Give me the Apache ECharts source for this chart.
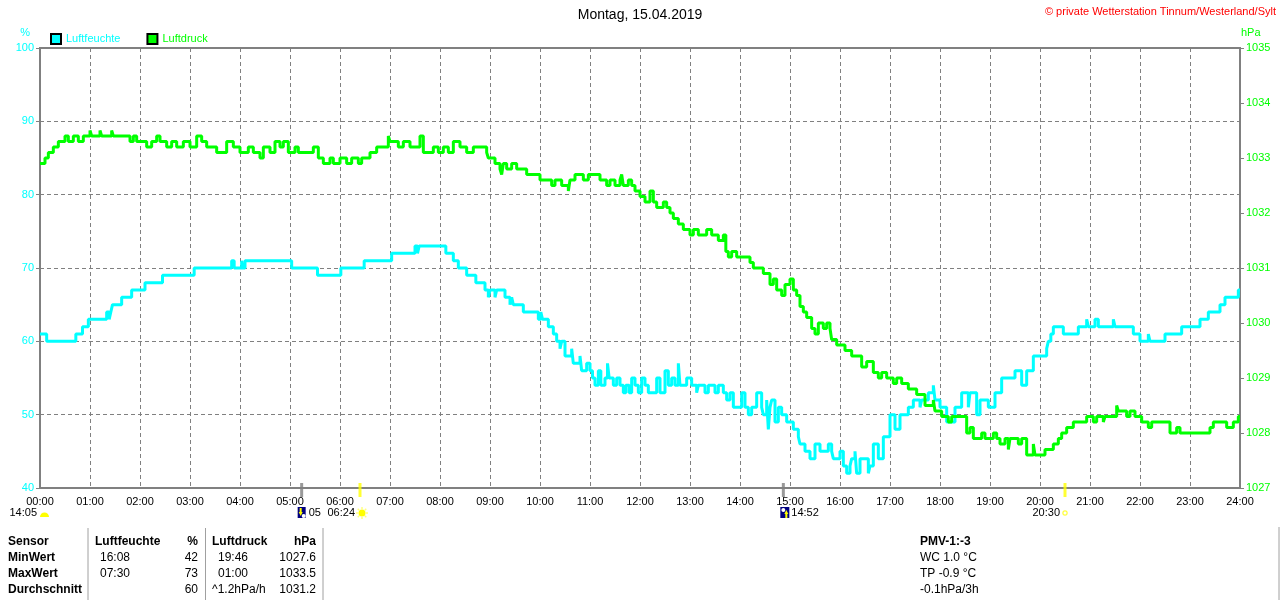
<!DOCTYPE html>
<html>
<head>
<meta charset="utf-8">
<title>Luftfeuchte / Luftdruck</title>
<script src="https://cdn.jsdelivr.net/npm/echarts@6/dist/echarts.min.js"></script>
<style>
  html, body { margin: 0; padding: 0; background: #fff; }
  #chart { width: 1280px; height: 600px; }
</style>
</head>
<body>
<div id="chart"></div>
<script>
// Luftfeuchte in %, [Uhrzeit, Wert] – Wert gilt ab dieser Uhrzeit
var humidity = [
  ["00:00",61],["00:08",60],["00:43",61],["00:51",62],["00:58",63],["01:20",64],["01:23",63],["01:25",64],
  ["01:27",65],["01:38",66],["01:50",67],["02:06",68],["02:27",69],["03:05",70],["03:50",71],["03:53",70],
  ["04:02",71],["04:03",70],["04:06",71],["05:02",70],["05:33",69],["06:01",70],["06:29",71],["07:02",72],
  ["07:30",73],["07:33",72],["07:35",73],["08:07",72],["08:16",71],["08:22",70],["08:32",69],["08:43",68],
  ["08:54",67],["08:58",66],["09:00",67],["09:06",66],["09:08",67],["09:18",66],["09:24",65],["09:26",66],
  ["09:28",65],["09:40",64],["09:58",63],["10:01",64],["10:03",63],["10:10",62],["10:16",61],["10:20",60],
  ["10:24",59],["10:26",60],["10:30",58],["10:38",59],["10:40",57],["10:48",58],["10:50",56],["10:56",57],
  ["11:00",56],["11:03",55],["11:06",54],["11:10",56],["11:13",54],["11:18",55],["11:21",57],["11:23",55],
  ["11:28",54],["11:32",55],["11:36",54],["11:40",53],["11:43",54],["11:47",53],["11:50",55],["11:54",54],
  ["11:58",53],["12:02",55],["12:06",54],["12:10",53],["12:20",55],["12:24",53],["12:30",56],["12:34",54],
  ["12:38",55],["12:42",54],["12:46",57],["12:48",54],["12:56",55],["13:02",54],["13:08",53],["13:10",54],
  ["13:18",53],["13:22",54],["13:30",53],["13:34",54],["13:40",53],["13:44",52],["13:48",53],["13:52",51],
  ["14:02",53],["14:06",51],["14:10",50],["14:14",51],["14:20",53],["14:26",51],["14:28",50],["14:32",52],
  ["14:34",48],["14:36",51],["14:38",52],["14:42",49],["14:46",51],["14:50",50],["14:56",49],["15:04",48],
  ["15:10",47],["15:12",46],["15:18",45],["15:24",44],["15:30",46],["15:36",45],["15:46",46],["15:50",45],
  ["15:52",44],["16:00",45],["16:04",43],["16:08",42],["16:12",43],["16:14",44],["16:18",45],["16:20",42],
  ["16:24",44],["16:34",42],["16:36",43],["16:40",46],["16:46",44],["16:52",47],["17:00",50],["17:06",48],
  ["17:12",50],["17:22",51],["17:28",52],["17:36",51],["17:38",52],["17:46",53],["17:52",54],["17:54",52],
  ["18:00",51],["18:08",49],["18:18",51],["18:26",53],["18:34",51],["18:36",53],["18:44",50],["18:48",52],
  ["18:58",51],["19:06",53],["19:14",55],["19:30",56],["19:38",54],["19:44",56],["19:52",58],["20:08",59],
  ["20:10",60],["20:13",61],["20:16",62],["20:28",61],["20:46",62],["20:56",63],["20:58",62],["21:06",63],
  ["21:10",62],["21:28",63],["21:30",62],["21:52",61],["22:00",60],["22:10",61],["22:12",60],["22:30",61],
  ["22:50",62],["23:12",63],["23:22",64],["23:36",65],["23:42",66],["23:58",67],["24:00",67]
];

// Luftdruck in hPa
var pressure = [
  ["00:00",1032.9],["00:06",1033.0],["00:10",1033.1],["00:16",1033.2],["00:22",1033.3],["00:30",1033.4],
  ["00:34",1033.3],["00:40",1033.4],["00:46",1033.3],["00:52",1033.4],["01:00",1033.5],["01:02",1033.4],
  ["01:12",1033.5],["01:14",1033.4],["01:26",1033.5],["01:28",1033.4],["01:48",1033.3],["01:52",1033.4],
  ["01:56",1033.3],["02:08",1033.2],["02:14",1033.3],["02:20",1033.4],["02:24",1033.3],["02:32",1033.2],
  ["02:38",1033.3],["02:44",1033.2],["02:52",1033.3],["03:00",1033.2],["03:08",1033.4],["03:14",1033.3],
  ["03:20",1033.2],["03:32",1033.1],["03:44",1033.3],["03:52",1033.2],["04:00",1033.1],["04:10",1033.2],
  ["04:16",1033.1],["04:24",1033.0],["04:28",1033.2],["04:36",1033.1],["04:42",1033.3],["04:48",1033.2],
  ["04:52",1033.3],["04:58",1033.1],["05:06",1033.2],["05:10",1033.1],["05:28",1033.2],["05:34",1033.0],
  ["05:40",1032.9],["05:48",1033.0],["05:52",1032.9],["06:00",1033.0],["06:08",1032.9],["06:14",1033.0],
  ["06:22",1032.9],["06:26",1033.0],["06:36",1033.1],["06:44",1033.2],["06:58",1033.4],["07:00",1033.3],
  ["07:10",1033.2],["07:16",1033.3],["07:24",1033.2],["07:36",1033.4],["07:40",1033.1],["07:52",1033.2],
  ["07:58",1033.1],["08:04",1033.2],["08:10",1033.1],["08:16",1033.3],["08:24",1033.2],["08:32",1033.1],
  ["08:40",1033.2],["08:56",1033.1],["08:58",1033.0],["09:06",1032.9],["09:12",1032.8],["09:14",1032.7],
  ["09:16",1032.9],["09:20",1032.8],["09:26",1032.9],["09:32",1032.8],["09:44",1032.7],["10:00",1032.6],
  ["10:14",1032.5],["10:18",1032.6],["10:26",1032.5],["10:34",1032.4],["10:36",1032.6],["10:42",1032.7],
  ["10:52",1032.6],["10:58",1032.7],["11:12",1032.6],["11:20",1032.5],["11:24",1032.6],["11:30",1032.5],
  ["11:36",1032.6],["11:38",1032.7],["11:40",1032.5],["11:46",1032.6],["11:50",1032.5],["11:54",1032.4],
  ["12:00",1032.3],["12:06",1032.2],["12:12",1032.4],["12:16",1032.2],["12:20",1032.1],["12:28",1032.2],
  ["12:32",1032.1],["12:36",1032.0],["12:40",1031.9],["12:46",1031.8],["12:52",1031.7],["13:00",1031.6],
  ["13:04",1031.7],["13:10",1031.6],["13:20",1031.7],["13:26",1031.6],["13:34",1031.5],["13:40",1031.6],
  ["13:43",1031.3],["13:46",1031.2],["13:50",1031.3],["13:56",1031.2],["14:12",1031.1],["14:16",1031.0],
  ["14:28",1030.9],["14:36",1030.7],["14:40",1030.8],["14:44",1030.6],["14:50",1030.5],["14:54",1030.7],
  ["15:00",1030.8],["15:04",1030.6],["15:08",1030.5],["15:12",1030.3],["15:16",1030.2],["15:20",1030.1],
  ["15:26",1029.9],["15:30",1029.8],["15:34",1030.0],["15:40",1029.9],["15:44",1030.0],["15:48",1029.9],
  ["15:50",1029.7],["15:56",1029.6],["16:06",1029.5],["16:14",1029.4],["16:26",1029.2],["16:32",1029.3],
  ["16:40",1029.1],["16:46",1029.0],["16:50",1029.1],["16:56",1029.0],["17:04",1028.9],["17:08",1029.0],
  ["17:14",1028.9],["17:22",1028.8],["17:32",1028.7],["17:42",1028.5],["17:52",1028.6],["17:54",1028.4],
  ["18:02",1028.3],["18:10",1028.2],["18:14",1028.3],["18:32",1028.0],["18:36",1028.1],["18:40",1027.9],
  ["18:50",1028.0],["18:54",1027.9],["19:04",1028.0],["19:08",1027.9],["19:12",1027.8],["19:18",1027.9],
  ["19:22",1027.7],["19:24",1027.9],["19:34",1027.8],["19:38",1027.9],["19:44",1027.6],["19:52",1027.8],
  ["19:54",1027.6],["20:06",1027.7],["20:16",1027.8],["20:22",1027.9],["20:26",1028.0],["20:32",1028.1],
  ["20:40",1028.2],["20:56",1028.3],["21:04",1028.2],["21:08",1028.3],["21:16",1028.2],["21:18",1028.3],
  ["21:32",1028.5],["21:34",1028.4],["21:44",1028.3],["21:48",1028.4],["21:54",1028.3],["22:02",1028.2],
  ["22:10",1028.1],["22:14",1028.2],["22:36",1028.0],["22:44",1028.1],["22:48",1028.0],["23:24",1028.1],
  ["23:28",1028.2],["23:44",1028.1],["23:52",1028.2],["23:58",1028.3],["24:00",1028.3]
];

// Sonne / Mond Ereignisse unter der Zeitachse
var events = [
  { time: "05:14", label: "05",    color: "#808080", icon: "moonset"  },
  { time: "06:24", label: "06:24", color: "#ffff00", icon: "sunrise"  },
  { time: "14:52", label: "14:52", color: "#808080", icon: "moonrise" },
  { time: "20:30", label: "20:30", color: "#ffff00", icon: "sunset"   }
];
var dayStartLabel = "14:05";

// Tabelle unten
var tableHead = ["Sensor", "Luftfeuchte", "%", "Luftdruck", "hPa"];
var tableRows = [
  ["MinWert",      "16:08", "42", "19:46",      "1027.6"],
  ["MaxWert",      "07:30", "73", "01:00",      "1033.5"],
  ["Durchschnitt", "",      "60", "^1.2hPa/h",  "1031.2"]
];
var pmvLines = ["PMV-1:-3", "WC 1.0 °C", "TP -0.9 °C", "-0.1hPa/3h"];

var FONT = '"Liberation Sans", Arial, sans-serif';
var CYAN = "#00ffff", GREEN = "#00ff00", GRAY = "#808080";

function toMin(s) {
  var p = s.split(":");
  return (+p[0]) * 60 + (+p[1]);
}
function pad2(n) { return (n < 10 ? "0" : "") + n; }

var chart = echarts.init(document.getElementById("chart"));

var option = {
  animation: false,
  backgroundColor: "#fff",
  textStyle: { fontFamily: FONT },
  title: [
    {
      text: "Montag, 15.04.2019",
      left: "center",
      top: 8,
      padding: 0,
      textStyle: { fontFamily: FONT, fontSize: 14, fontWeight: "normal", color: "#000" }
    },
    {
      text: "© private Wetterstation Tinnum/Westerland/Sylt",
      right: 4,
      top: 6,
      padding: 0,
      textStyle: { fontFamily: FONT, fontSize: 11, fontWeight: "normal", color: "#ff0000" }
    }
  ],
  legend: {
    left: 50,
    top: 33,
    padding: 0,
    icon: "rect",
    itemWidth: 10,
    itemHeight: 10,
    itemGap: 26,
    selectedMode: false,
    textStyle: { fontFamily: FONT, fontSize: 11 },
    data: [
      { name: "Luftfeuchte", textStyle: { color: CYAN } },
      { name: "Luftdruck", textStyle: { color: GREEN } }
    ]
  },
  grid: {
    left: 40, right: 40, top: 48, bottom: 112,
    show: true, borderColor: GRAY, borderWidth: 2
  },
  xAxis: {
    type: "value",
    min: 0, max: 1440, interval: 60,
    axisLine: { show: true, lineStyle: { color: GRAY, width: 2 } },
    axisTick: { show: false },
    axisLabel: {
      color: "#000", fontFamily: FONT, fontSize: 11, margin: 8,
      formatter: function (v) { return pad2(Math.round(v / 60)) + ":00"; }
    },
    splitLine: { show: true, lineStyle: { color: GRAY, width: 1, type: [4, 3] } }
  },
  yAxis: [
    {
      type: "value",
      min: 40, max: 100, interval: 10,
      name: "%",
      nameLocation: "end",
      nameGap: 10,
      nameTextStyle: { color: CYAN, fontFamily: FONT, fontSize: 11, align: "right", padding: [0, 10, 0, 0] },
      axisLine: { show: true, lineStyle: { color: GRAY, width: 2 } },
      axisTick: { show: true, length: 4, lineStyle: { color: GRAY, width: 1 } },
      axisLabel: { color: CYAN, fontFamily: FONT, fontSize: 11, margin: 6 },
      splitLine: { show: true, lineStyle: { color: GRAY, width: 1, type: [4, 3] } }
    },
    {
      type: "value",
      min: 1027, max: 1035, interval: 1,
      position: "right",
      name: "hPa",
      nameLocation: "end",
      nameGap: 10,
      nameTextStyle: { color: GREEN, fontFamily: FONT, fontSize: 11, align: "left", padding: [0, 0, 0, 1] },
      axisLine: { show: true, lineStyle: { color: GRAY, width: 2 } },
      axisTick: { show: true, length: 4, lineStyle: { color: GRAY, width: 1 } },
      axisLabel: {
        color: GREEN, fontFamily: FONT, fontSize: 11, margin: 6,
        formatter: function (v) { return String(v); }
      },
      splitLine: { show: false }
    }
  ],
  series: [
    {
      name: "Luftfeuchte",
      type: "line",
      yAxisIndex: 0,
      step: "end",
      showSymbol: false,
      color: CYAN,
      itemStyle: { color: CYAN, borderColor: "#000", borderWidth: 1 },
      lineStyle: { color: CYAN, width: 3 },
      data: humidity.map(function (d) { return [toMin(d[0]), d[1]]; })
    },
    {
      name: "Luftdruck",
      type: "line",
      yAxisIndex: 1,
      step: "end",
      showSymbol: false,
      color: GREEN,
      itemStyle: { color: GREEN, borderColor: "#000", borderWidth: 1 },
      lineStyle: { color: GREEN, width: 3 },
      data: pressure.map(function (d) { return [toMin(d[0]), d[1]]; })
    },
    {
      name: "Ereignisse",
      type: "scatter",
      yAxisIndex: 0,
      clip: false,
      symbol: "rect",
      symbolSize: [3, 14],
      symbolOffset: [0, 2],
      silent: true,
      z: 5,
      data: events.map(function (e) {
        return { value: [toMin(e.time), 40], itemStyle: { color: e.color } };
      })
    }
  ]
};

chart.setOption(option);

// Beschriftungen und Symbole unter der Zeitachse sowie die Tabelle
function txt(text, x, y, opts) {
  opts = opts || {};
  return {
    type: "text",
    silent: true,
    style: {
      text: text, x: x, y: y,
      fill: opts.color || "#000",
      font: (opts.bold ? "bold " : "") + (opts.size || 12) + "px " + FONT,
      align: opts.align || "left", textAlign: opts.align || "left",
      verticalAlign: "middle", textVerticalAlign: "middle"
    }
  };
}

var g = [];
var axisY = chart.convertToPixel({ yAxisIndex: 0 }, 40);
var rowY = axisY + 25;

// Tagesanfang: Mond-/Sonnenzeit links
var x0 = chart.convertToPixel({ xAxisIndex: 0 }, 0);
g.push(txt(dayStartLabel, x0 - 3, rowY, { align: "right", size: 11 }));
g.push({ type: "sector", silent: true, shape: { cx: x0 + 4.5, cy: rowY + 4, r: 4.5, startAngle: Math.PI, endAngle: Math.PI * 2 },
         style: { fill: "#ffff00" } });

events.forEach(function (e) {
  var px = chart.convertToPixel({ xAxisIndex: 0 }, toMin(e.time));
  if (e.icon === "moonset") {
    g.push({ type: "rect", silent: true, shape: { x: px - 4, y: rowY - 6, width: 8, height: 11 }, style: { fill: "#000080" } });
    g.push({ type: "circle", silent: true, shape: { cx: px + 2, cy: rowY + 3, r: 2 }, style: { fill: "#ffffff" } });
    g.push({ type: "polygon", silent: true, shape: { points: [[px - 3, rowY - 1], [px + 1, rowY - 1], [px - 1, rowY + 3]] }, style: { fill: "#ffff00" } });
    g.push({ type: "rect", silent: true, shape: { x: px - 2, y: rowY - 5, width: 2, height: 4 }, style: { fill: "#ffff00" } });
    g.push(txt(e.label, px + 7, rowY, { size: 11 }));
  } else if (e.icon === "moonrise") {
    g.push({ type: "rect", silent: true, shape: { x: px - 3, y: rowY - 6, width: 9, height: 11 }, style: { fill: "#000080" } });
    g.push({ type: "circle", silent: true, shape: { cx: px, cy: rowY - 3, r: 2 }, style: { fill: "#ffffff" } });
    g.push({ type: "polygon", silent: true, shape: { points: [[px + 1, rowY + 1], [px + 5, rowY + 1], [px + 3, rowY - 3]] }, style: { fill: "#ffff00" } });
    g.push({ type: "rect", silent: true, shape: { x: px + 2, y: rowY + 1, width: 2, height: 4 }, style: { fill: "#ffff00" } });
    g.push(txt(e.label, px + 8, rowY, { size: 11 }));
  } else if (e.icon === "sunrise") {
    for (var k = 0; k < 8; k++) {
      var a = k * Math.PI / 4;
      g.push({ type: "line", silent: true,
               shape: { x1: px + 2 + Math.cos(a) * 4, y1: rowY + Math.sin(a) * 4, x2: px + 2 + Math.cos(a) * 6, y2: rowY + Math.sin(a) * 6 },
               style: { stroke: "#ffff80", lineWidth: 1.5 } });
    }
    g.push({ type: "circle", silent: true, shape: { cx: px + 2, cy: rowY, r: 3.5 }, style: { fill: "#ffff00" } });
    g.push(txt(e.label, px - 5, rowY, { align: "right", size: 11 }));
  } else {
    g.push({ type: "rect", silent: true, shape: { x: px - 2, y: rowY - 2, width: 4, height: 4, r: 1 },
             style: { fill: "#ffffff", stroke: "#ffff00", lineWidth: 1 } });
    g.push(txt(e.label, px - 5, rowY, { align: "right", size: 11 }));
  }
});

// Tabelle
var colX = [8, 95, 198, 212, 316];
var colAlign = ["left", "left", "right", "left", "right"];
var rowYs = [542, 558, 574, 590];
tableHead.forEach(function (h, i) {
  g.push(txt(h, colX[i], rowYs[0], { bold: true, align: colAlign[i] }));
});
var valX = [8, 100, 198, 218, 316];
tableRows.forEach(function (r, j) {
  r.forEach(function (v, i) {
    if (v === "") return;
    var x = valX[i];
    if (i === 3 && v.charAt(0) === "^") x = 212;
    g.push(txt(v, x, rowYs[j + 1], { bold: i === 0, align: colAlign[i] }));
  });
});
[88, 205.5, 323].forEach(function (x) {
  g.push({ type: "line", silent: true, shape: { x1: x, y1: 528, x2: x, y2: 600 }, style: { stroke: "#a0a0a0", lineWidth: 1 } });
});
g.push({ type: "line", silent: true, shape: { x1: 1279, y1: 527, x2: 1279, y2: 600 }, style: { stroke: "#a0a0a0", lineWidth: 1 } });
pmvLines.forEach(function (t, i) {
  g.push(txt(t, 920, rowYs[i], { bold: i === 0 }));
});

chart.setOption({ graphic: g });
</script>
</body>
</html>
